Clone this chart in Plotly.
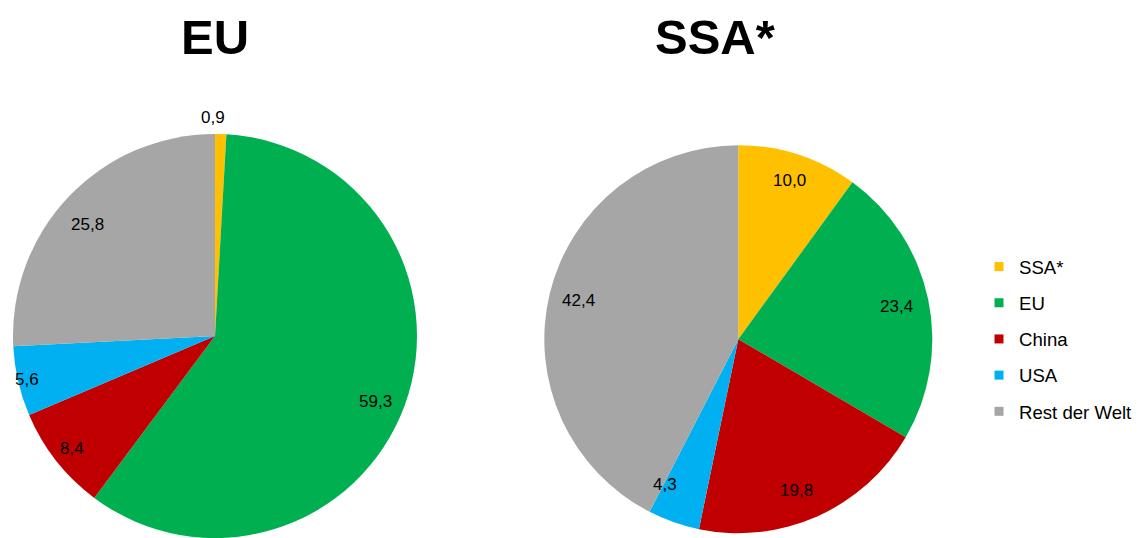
import math
import plotly.graph_objects as go

# ---- data ----
labels = ["SSA*", "EU", "China", "USA", "Rest der Welt"]
colors = ["#FFC000", "#00B050", "#C00000", "#00B0F0", "#A6A6A6"]
eu_values = [0.9, 59.3, 8.4, 5.6, 25.8]
ssa_values = [10.0, 23.4, 19.8, 4.3, 42.4]
titles = ["EU", "SSA*"]

# ---- layout settings ----
# page body has an 8px margin; the figure fills the rest of the 1140x538 window
OFF = 8
W, H = 1140 - OFF, 538 - OFF
FONT = "Liberation Sans, Arial, sans-serif"


def px_domain(x0, x1, ytop, ybot):
    """window pixel box -> paper domain"""
    return dict(x=[(x0 - OFF) / W, (x1 - OFF) / W],
                y=[max(0.0, (H - (ybot - OFF)) / H), (H - (ytop - OFF)) / H])


eu_domain = px_domain(13, 417, 134, 538)
ssa_domain = px_domain(544.3, 932.3, 145.2, 533.2)
# label radius (fraction of pie radius) and angle shift (deg), Excel "best fit" look
eu_label_r = [1.08, 0.857, 0.90, 0.955, 0.84]
eu_label_da = [-2.1, 2.4, 0.0, 0.0, -2.4]
ssa_label_r = [0.86, 0.835, 0.835, 0.84, 0.845]
ssa_label_da = [0.0, 0.0, 2.8, 7.4, 0.0]


def fmt(v):
    return f"{v:.1f}".replace(".", ",")


def label_annotations(values, domain, radii, dangs):
    x0, x1 = domain["x"]
    y0, y1 = domain["y"]
    cx, cy = (x0 + x1) / 2, (y0 + y1) / 2
    R = min((x1 - x0) * W, (y1 - y0) * H) / 2
    total = sum(values)
    anns = []
    cum = 0.0
    for v, rf, da in zip(values, radii, dangs):
        mid = (cum + v / 2) / total * 2 * math.pi + math.radians(da)
        cum += v
        ax = cx + rf * R * math.sin(mid) / W
        ay = cy + rf * R * math.cos(mid) / H
        anns.append(dict(x=ax, y=ay, xref="paper", yref="paper", text=fmt(v),
                         showarrow=False, xanchor="center", yanchor="middle",
                         font=dict(family=FONT, size=17, color="black")))
    return anns


fig = go.Figure()
for vals, dom in [(eu_values, eu_domain), (ssa_values, ssa_domain)]:
    fig.add_trace(go.Pie(labels=labels, values=vals, sort=False, direction="clockwise",
                         rotation=0, domain=dom, textinfo="none", showlegend=False,
                         marker=dict(colors=colors, line=dict(width=0))))

# legend entries
for lab, col in zip(labels, colors):
    fig.add_trace(go.Scatter(x=[None], y=[None], mode="markers", name=lab, legendgroup=lab,
                             marker=dict(symbol="square", size=9, color=col)))

anns = label_annotations(eu_values, eu_domain, eu_label_r, eu_label_da) + \
    label_annotations(ssa_values, ssa_domain, ssa_label_r, ssa_label_da)
for t, xc in zip(titles, [215, 715]):
    anns.append(dict(x=(xc - OFF) / W, y=1 - (37 - OFF) / H, xref="paper", yref="paper",
                     text=f"<b>{t}</b>", showarrow=False, xanchor="center", yanchor="middle",
                     font=dict(family=FONT, size=49, color="black")))

fig.update_layout(
    width=W, height=H,
    margin=dict(l=0, r=0, t=0, b=0),
    paper_bgcolor="white", plot_bgcolor="white",
    xaxis=dict(visible=False), yaxis=dict(visible=False),
    annotations=anns,
    legend=dict(x=(979 - OFF) / W, xanchor="left", y=1 - (248 - OFF) / H, yanchor="top",
                font=dict(family=FONT, size=18.6, color="black"),
                tracegroupgap=9, bgcolor="rgba(0,0,0,0)"),
)
fig.write_html("out.html")
